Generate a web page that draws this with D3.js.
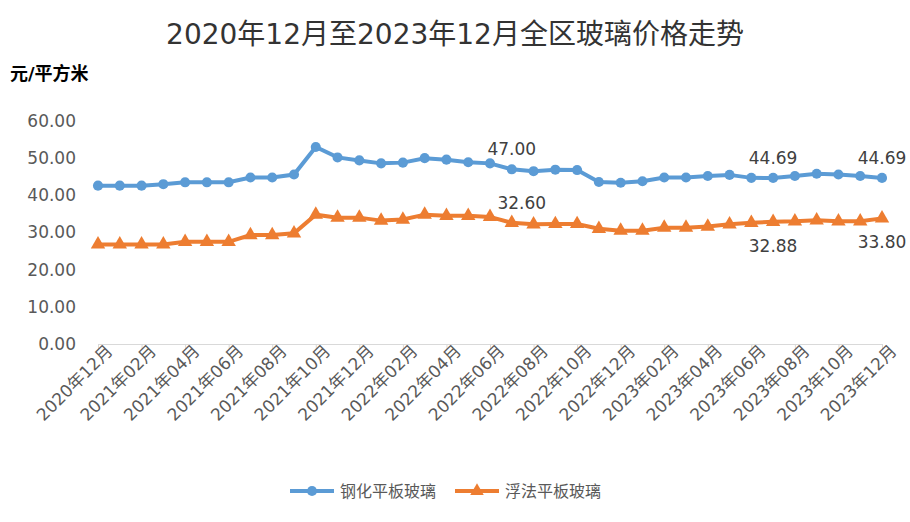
<!DOCTYPE html><html><head><meta charset="utf-8"><script src="https://cdn.jsdelivr.net/npm/d3@7"></script>
<style>body{margin:0;background:#fff}text{font-family:"DejaVu Sans","Noto Sans CJK SC",sans-serif}</style></head><body><svg id="c" width="910" height="522"></svg><script>
const months=[];for(let y=2020,m=12;months.length<37;){months.push(y+"年"+String(m).padStart(2,"0")+"月");m++;if(m>12){m=1;y++;}}
const tickLabels=months.filter((d,i)=>i%2===0);
const steel=[42.6,42.6,42.6,43.0,43.5,43.5,43.5,44.8,44.8,45.6,53.0,50.2,49.4,48.6,48.8,50.0,49.6,48.9,48.6,47.0,46.5,46.9,46.8,43.6,43.4,43.8,44.8,44.8,45.2,45.5,44.7,44.69,45.2,45.8,45.6,45.2,44.69];
const flt=[26.8,26.8,26.8,26.8,27.5,27.5,27.5,29.3,29.3,29.8,34.8,34.0,34.0,33.2,33.5,34.8,34.5,34.5,34.2,32.6,32.2,32.3,32.3,31.0,30.5,30.5,31.3,31.3,31.6,32.2,32.6,32.88,33.0,33.3,33.0,33.0,33.8];
const yTicks=[0,10,20,30,40,50,60];
const svg=d3.select("#c");
const x=d3.scalePoint().domain(months).range([98,882]);
const y=d3.scaleLinear().domain([0,60]).range([344,121]);
svg.append("text").attr("x",455).attr("y",44).attr("text-anchor","middle").attr("font-size",28).attr("fill","#333").text("2020年12月至2023年12月全区玻璃价格走势");
svg.append("text").attr("x",10).attr("y",80).attr("font-size",18).attr("font-weight","bold").attr("fill","#000").text("元/平方米");
const ya=svg.append("g").attr("transform","translate(80,0)").call(d3.axisLeft(y).tickValues(yTicks).tickFormat(d3.format(".2f")).tickSize(0).tickPadding(4));
ya.select(".domain").remove();ya.selectAll("text").attr("font-size",17).attr("fill","#595959");
const xa=svg.append("g").attr("transform","translate(0,344)").call(d3.axisBottom(x).tickValues(tickLabels).tickSize(5));
xa.select(".domain").attr("stroke","#d9d9d9");xa.selectAll("line").attr("stroke","#d9d9d9");
xa.selectAll("text").attr("font-size",17).attr("fill","#595959").attr("text-anchor","end").attr("dx","0.3em").attr("dy","0.5em").attr("transform","rotate(-45)");
function series(data,col,shape){
 svg.append("path").datum(data).attr("fill","none").attr("stroke",col).attr("stroke-width",4).attr("d",d3.line().x((d,i)=>x(months[i])).y(d=>y(d)));
 svg.append("g").selectAll("path").data(data).join("path").attr("transform",(d,i)=>`translate(${x(months[i])},${y(d)})`).attr("d",d3.symbol(shape,shape===d3.symbolCircle?80:90)()).attr("fill",col);
}
series(steel,"#5b9bd5",d3.symbolCircle);series(flt,"#ed7d31",d3.symbolTriangle);
const labels=[[steel,19,-14,"47.00"],[steel,31,-14,"44.69"],[steel,36,-14,"44.69"],[flt,19,-14,"32.60"],[flt,31,30,"32.88"],[flt,36,30,"33.80"]];
labels.forEach(([s,i,dy,t])=>svg.append("text").attr("x",x(months[i])+(s===flt&&i===19?10:0)).attr("y",y(s[i])+dy).attr("text-anchor","middle").attr("font-size",17).attr("fill","#404040").text(t));
const lg=svg.append("g");
[[290,"#5b9bd5",d3.symbolCircle,"钢化平板玻璃"],[455,"#ed7d31",d3.symbolTriangle,"浮法平板玻璃"]].forEach(([lx,c,s,t])=>{
 lg.append("line").attr("x1",lx).attr("x2",lx+44).attr("y1",491).attr("y2",491).attr("stroke",c).attr("stroke-width",4);
 lg.append("path").attr("transform",`translate(${lx+22},491)`).attr("d",d3.symbol(s,80)()).attr("fill",c);
 lg.append("text").attr("x",lx+50).attr("y",497).attr("font-size",16).attr("fill","#595959").text(t);
});
</script></body></html>
